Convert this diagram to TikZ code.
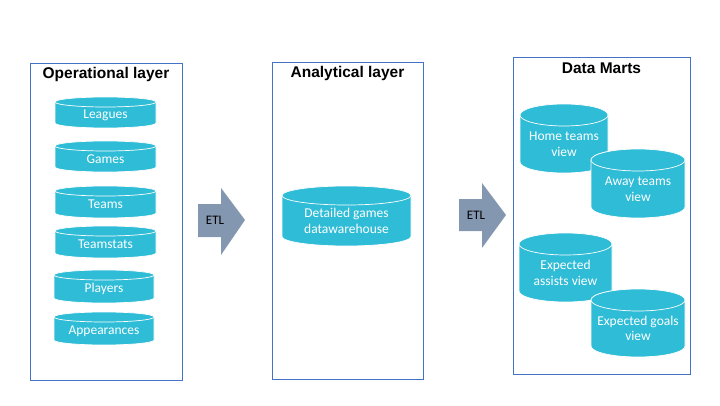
\documentclass[tikz,border=0pt]{standalone}
\usepackage{fontspec}
\setmainfont{Carlito}
\newfontfamily\titlefont{Liberation Sans}
\definecolor{cylcol}{RGB}{47,188,214}
\definecolor{boxcol}{RGB}{68,114,196}
\definecolor{arrcol}{RGB}{132,151,176}
\newcommand\dbcyl[7]{% name, x1, x2, ytop(img), ybot(img), ry, text
  \pgfmathsetmacro\cx{(#2+#3)/2}
  \pgfmathsetmacro\rx{(#3-#2)/2}
  \pgfmathsetmacro\yt{405-#4-#6}
  \pgfmathsetmacro\yb{405-#5+#6}
  \pgfmathsetmacro\ym{(\yt-#6+\yb)/2}
  \filldraw[cylline] (#2,\yt) -- (#2,\yb) arc[start angle=180,end angle=360,x radius=\rx,y radius=#6] -- (#3,\yt) arc[start angle=0,end angle=180,x radius=\rx,y radius=#6] -- cycle;
  \filldraw[cylline] (\cx,\yt) ellipse[x radius=\rx,y radius=#6];
  \node[cyltext] (#1) at (\cx,\ym) {#7};
}
\begin{document}
\begin{tikzpicture}[x=1pt,y=1pt,
  layerbox/.style={draw=boxcol,line width=0.9pt},
  title/.style={font=\titlefont\bfseries\fontsize{15.5}{18}\selectfont,inner sep=0pt},
  cylline/.style={fill=cylcol,draw=white,line width=0.7pt},
  cyltext/.style={text=white,font=\fontsize{13.5}{15.5}\selectfont,align=center,inner sep=0pt},
  etltext/.style={font=\fontsize{13}{15}\selectfont,inner sep=0pt}]
\useasboundingbox (0,0) rectangle (720,405);
% layer boxes
\draw[layerbox] (30,405-63) rectangle (182,405-380);
\draw[layerbox] (272,405-62) rectangle (423,405-379);
\draw[layerbox] (513,405-57) rectangle (690,405-374);
\node[title] (t1) at (106,405-74.5) {Operational layer};
\node[title] (t2) at (347.5,405-73) {Analytical layer};
\node[title] (t3) at (601.5,405-68) {Data Marts};
% operational cylinders
\dbcyl{leagues}{55}{156}{97}{128}{5}{Leagues}
\dbcyl{games}{55}{156}{141}{172}{5}{Games}
\dbcyl{teams}{55}{156}{186}{218}{5}{Teams}
\dbcyl{teamstats}{55}{156}{226}{258}{5}{Teamstats}
\dbcyl{players}{54}{154}{270}{303}{5}{Players}
\dbcyl{appear}{54}{154}{312}{345}{5}{Appearances}
% analytical
\dbcyl{dw}{282}{411}{186}{246}{9.5}{Detailed games\\datawarehouse}
% data marts
\dbcyl{home}{520}{608}{104}{173}{11}{Home teams\\view}
\dbcyl{away}{591}{685}{149}{218}{11}{Away teams\\view}
\dbcyl{assists}{519}{612}{233}{302}{11}{Expected\\assists view}
\dbcyl{goals}{591}{685}{289}{357}{11}{Expected goals\\view}
% ETL arrows
\fill[arrcol] (198,405-204) -- (221,405-204) -- (221,405-188) -- (245,405-220) -- (221,405-255) -- (221,405-237) -- (198,405-237) -- cycle;
\node[etltext] (etl1) at (215,405-220) {ETL};
\fill[arrcol] (459,405-199) -- (482,405-199) -- (482,405-183) -- (506,405-215) -- (482,405-248) -- (482,405-231) -- (459,405-231) -- cycle;
\node[etltext] (etl2) at (476,405-215) {ETL};
\end{tikzpicture}
\end{document}
